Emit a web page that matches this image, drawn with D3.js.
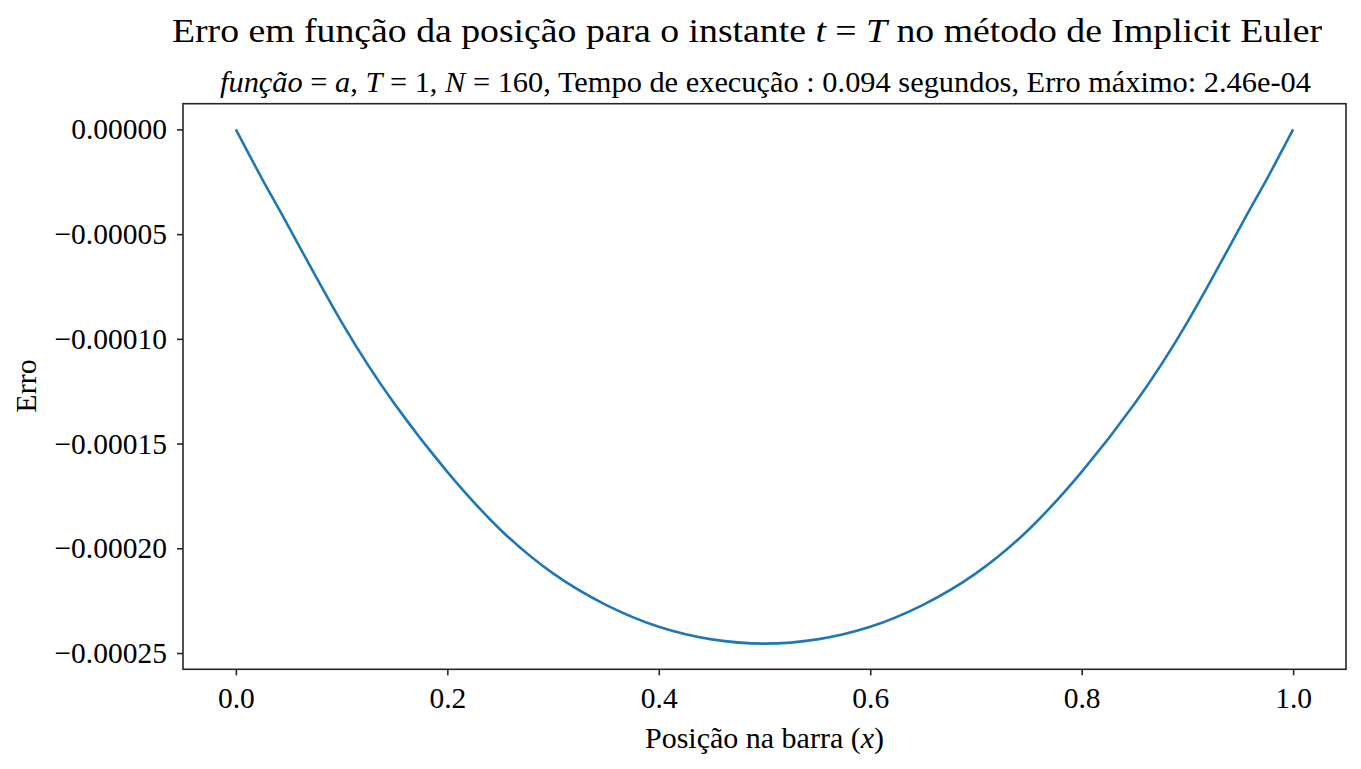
<!DOCTYPE html>
<html>
<head>
<meta charset="utf-8">
<script src="https://cdn.jsdelivr.net/npm/d3@7"></script>
<style>
  body { margin: 0; background: #fff; }
  svg text { font-family: "Liberation Serif", "Times New Roman", serif; fill: #000; }
</style>
</head>
<body>
<div id="chart"></div>
<script>
// error at t = T
const posX = [0, 0.025, 0.05, 0.10, 0.15, 0.20, 0.25, 0.30, 0.35, 0.40, 0.45, 0.50,
              0.55, 0.60, 0.65, 0.70, 0.75, 0.80, 0.85, 0.90, 0.95, 0.975, 1.0];
const erro = [0, -0.0000238, -0.0000465, -0.0000920, -0.0001310, -0.0001635, -0.0001910, -0.0002120, -0.0002270, -0.0002375, -0.0002435, -0.0002455,
              -0.0002435, -0.0002375, -0.0002270, -0.0002120, -0.0001910, -0.0001635, -0.0001310, -0.0000920, -0.0000465, -0.0000238, 0];
const xTicks = [0.0, 0.2, 0.4, 0.6, 0.8, 1.0];
const yTicks = [0, -0.00005, -0.00010, -0.00015, -0.00020, -0.00025];

const data = posX.map((x, i) => ({x: x, y: erro[i]}));

const W = 1361, H = 769;
const margin = {top: 103.7, right: 15, bottom: 99.7, left: 183};
const width = W - margin.left - margin.right,
      height = H - margin.top - margin.bottom;

const svg = d3.select("#chart").append("svg")
  .attr("width", W)
  .attr("height", H);

const g = svg.append("g")
  .attr("transform", `translate(${margin.left},${margin.top})`);

const x = d3.scaleLinear().domain([-0.05, 1.05]).range([0, width]);
const yMin = d3.min(erro), yMax = d3.max(erro);
const pad = (yMax - yMin) * 0.05;
const y = d3.scaleLinear().domain([yMin - pad, yMax + pad]).range([height, 0]);

// curve
g.append("path")
  .datum(data)
  .attr("fill", "none")
  .attr("stroke", "#1f77b4")
  .attr("stroke-width", 2.6)
  .attr("d", d3.line()
    .x(d => x(d.x))
    .y(d => y(d.y))
    .curve(d3.curveNatural));

// axes
const xAxis = g.append("g")
  .attr("transform", `translate(0,${height})`)
  .call(d3.axisBottom(x).tickValues(xTicks).tickFormat(d3.format(".1f")).tickSize(6).tickPadding(10));

const yAxis = g.append("g")
  .call(d3.axisLeft(y).tickValues(yTicks)
    .tickFormat(d => d3.format(".5f")(d).replace("-", "\u2212"))
    .tickSize(6).tickPadding(10));

[xAxis, yAxis].forEach(a => {
  a.select(".domain").remove();
  a.selectAll(".tick line").attr("stroke", "#262626").attr("stroke-width", 1.6);
  a.selectAll(".tick text")
    .style("font-family", "'Liberation Serif', serif")
    .style("font-size", "29.5px")
    .attr("fill", "#000");
});
xAxis.selectAll(".tick text").attr("dy", "0.76em");

// frame
g.append("rect")
  .attr("width", width)
  .attr("height", height)
  .attr("fill", "none")
  .attr("stroke", "#262626")
  .attr("stroke-width", 1.6);

// axis labels
const xl = svg.append("text")
  .attr("x", margin.left + width / 2)
  .attr("y", 748)
  .attr("text-anchor", "middle")
  .style("font-size", "30px");
xl.append("tspan").text("Posição na barra (");
xl.append("tspan").style("font-style", "italic").text("x");
xl.append("tspan").text(")");

svg.append("text")
  .attr("transform", `translate(36,386) rotate(-90)`)
  .attr("text-anchor", "middle")
  .style("font-size", "30px")
  .text("Erro");

// titles
const t1 = svg.append("text")
  .attr("x", 172)
  .attr("y", 42)
  .attr("textLength", 1150)
  .attr("lengthAdjust", "spacingAndGlyphs")
  .style("font-size", "34px");
t1.append("tspan").text("Erro em função da posição para o instante ");
t1.append("tspan").style("font-style", "italic").text("t");
t1.append("tspan").text(" = ");
t1.append("tspan").style("font-style", "italic").text("T");
t1.append("tspan").text(" no método de Implicit Euler");

const t2 = svg.append("text")
  .attr("x", 220)
  .attr("y", 92)
  .attr("textLength", 1091)
  .attr("lengthAdjust", "spacingAndGlyphs")
  .style("font-size", "29px");
t2.append("tspan").style("font-style", "italic").text("função");
t2.append("tspan").text(" = ");
t2.append("tspan").style("font-style", "italic").text("a");
t2.append("tspan").text(",  ");
t2.append("tspan").style("font-style", "italic").text("T");
t2.append("tspan").text(" = 1,  ");
t2.append("tspan").style("font-style", "italic").text("N");
t2.append("tspan").text(" = 160,  Tempo de execução :  0.094 segundos, Erro máximo: 2.46e-04");
</script>
</body>
</html>
